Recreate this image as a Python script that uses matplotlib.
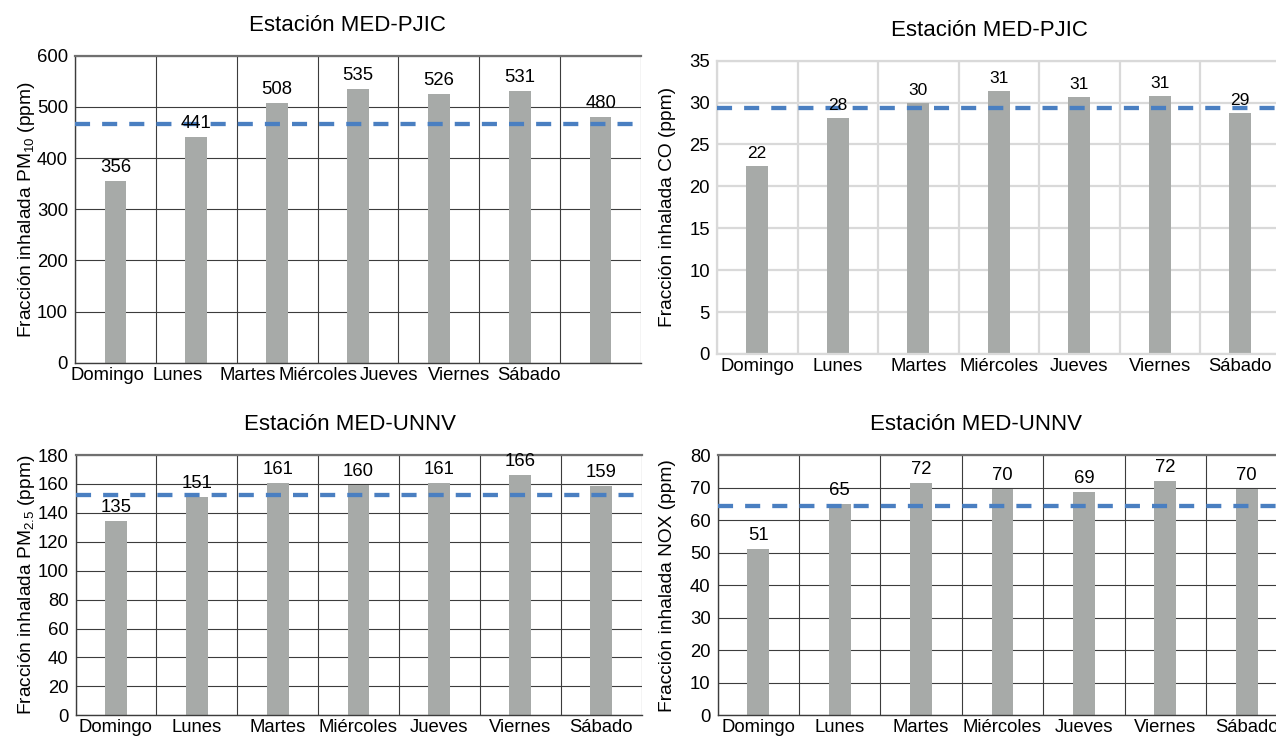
import numpy as np
import matplotlib
matplotlib.use("Agg")
import matplotlib.pyplot as plt
from matplotlib import font_manager

# Días de la semana
days = ["Domingo", "Lunes", "Martes", "Miércoles", "Jueves", "Viernes", "Sábado"]

# Fracción inhalada por día (ppm)
pm10_pjic = [356, 441, 508, 535, 526, 531, 480]
co_pjic = [22.4, 28.2, 29.9, 31.4, 30.7, 30.8, 28.7]
pm25_unnv = [134.6, 151.0, 160.8, 159.6, 160.7, 165.9, 158.8]
nox_unnv = [51.2, 64.9, 71.5, 69.6, 68.6, 72.1, 69.5]

# Nivel de referencia semanal (línea discontinua)
pm10_ref = 467
co_ref = 29.4
pm25_ref = 152.3
nox_ref = 64.3

BAR = "#a7aaa8"
BLUE = "#4a7fc1"
DARK = "#3c3c3c"
LIGHT = "#d9d9d9"

plt.rcParams["font.family"] = ["Liberation Sans", "DejaVu Sans"]
FS = 13.3

W, H = 1276, 736
fig = plt.figure(figsize=(W / 100, H / 100), dpi=100)

have_narrow = any(f.name == "Liberation Sans Narrow" for f in font_manager.fontManager.ttflist)
narrow_family = ["Liberation Sans Narrow", "Liberation Sans"] if have_narrow else ["Liberation Sans"]


def draw_panel(box, values, ref, title, ylabel, ymax, ystep, title_x,
               light=False, label_step=1.0, label_shift=0.0, label_family=None,
               label_size=FS, ylabel_gap=41):
    left, top, right, bottom = box
    axw = right - left
    ax = fig.add_axes([left / W, 1 - bottom / H, axw / W, (bottom - top) / H])
    x = np.arange(len(days))

    ax.bar(x, values, width=0.27, color=BAR, zorder=2)
    ax.axhline(ref, color=BLUE, lw=3.1, dashes=(3.5, 2.8), zorder=3)
    for xi, v in zip(x, values):
        ax.annotate(f"{v:.0f}", (xi, v), xytext=(0, 3.6), textcoords="offset points",
                    ha="center", va="bottom", fontsize=label_size, zorder=5)

    ax.set_xlim(-0.5, len(days) - 0.5)
    ax.set_ylim(0, ymax)
    ax.set_yticks(np.arange(0, ymax + ystep / 2, ystep))
    ax.set_xticks(x * label_step + label_shift)
    ax.set_xticklabels(days, fontsize=FS, family=label_family or plt.rcParams["font.family"])
    ax.set_xticks(np.arange(-0.5, len(days)), minor=True)
    ax.tick_params(which="both", length=0)
    ax.tick_params(axis="y", labelsize=FS, pad=5)
    ax.tick_params(axis="x", pad=3)

    gc = LIGHT if light else DARK
    glw = 1.6 if light else 0.8
    ax.grid(axis="y", which="major", color=gc, lw=glw, zorder=0)
    ax.grid(axis="x", which="minor", color=gc, lw=glw, zorder=0)
    ax.set_axisbelow(True)

    ax.spines["right"].set_visible(False)
    ax.spines["top"].set_color(LIGHT if light else "#707070")
    ax.spines["top"].set_linewidth(1.6)
    for side in ("left", "bottom"):
        ax.spines[side].set_color(gc)
        ax.spines[side].set_linewidth(1.6 if light else 1.0)

    ax.set_ylabel(ylabel, fontsize=13.8)
    ax.yaxis.set_label_coords(-ylabel_gap / axw, 0.5)

    ax.annotate(title, (title_x, 1), xycoords="axes fraction", xytext=(0, 21.6),
                textcoords="offset points", ha="center", va="center", fontsize=16)
    return ax


draw_panel((75, 55.7, 641, 362.7), pm10_pjic, pm10_ref, "Estación MED-PJIC",
           r"Fracción inhalada PM$\mathregular{_{10}}$ (ppm)", 600, 100, 0.481,
           label_step=0.87, label_shift=-0.1, label_family=narrow_family, ylabel_gap=38)
draw_panel((717, 60.7, 1280.5, 354), co_pjic, co_ref, "Estación MED-PJIC",
           "Fracción inhalada CO (ppm)", 35, 5, 0.484, light=True, label_size=12.5)
draw_panel((75.5, 455, 641.5, 715.3), pm25_unnv, pm25_ref, "Estación MED-UNNV",
           r"Fracción inhalada PM$\mathregular{_{2.5}}$ (ppm)", 180, 20, 0.485, ylabel_gap=38)
draw_panel((717.5, 455, 1287.5, 715.3), nox_unnv, nox_ref, "Estación MED-UNNV",
           "Fracción inhalada NOX (ppm)", 80, 10, 0.454)

fig.savefig("out.png", dpi=100)
